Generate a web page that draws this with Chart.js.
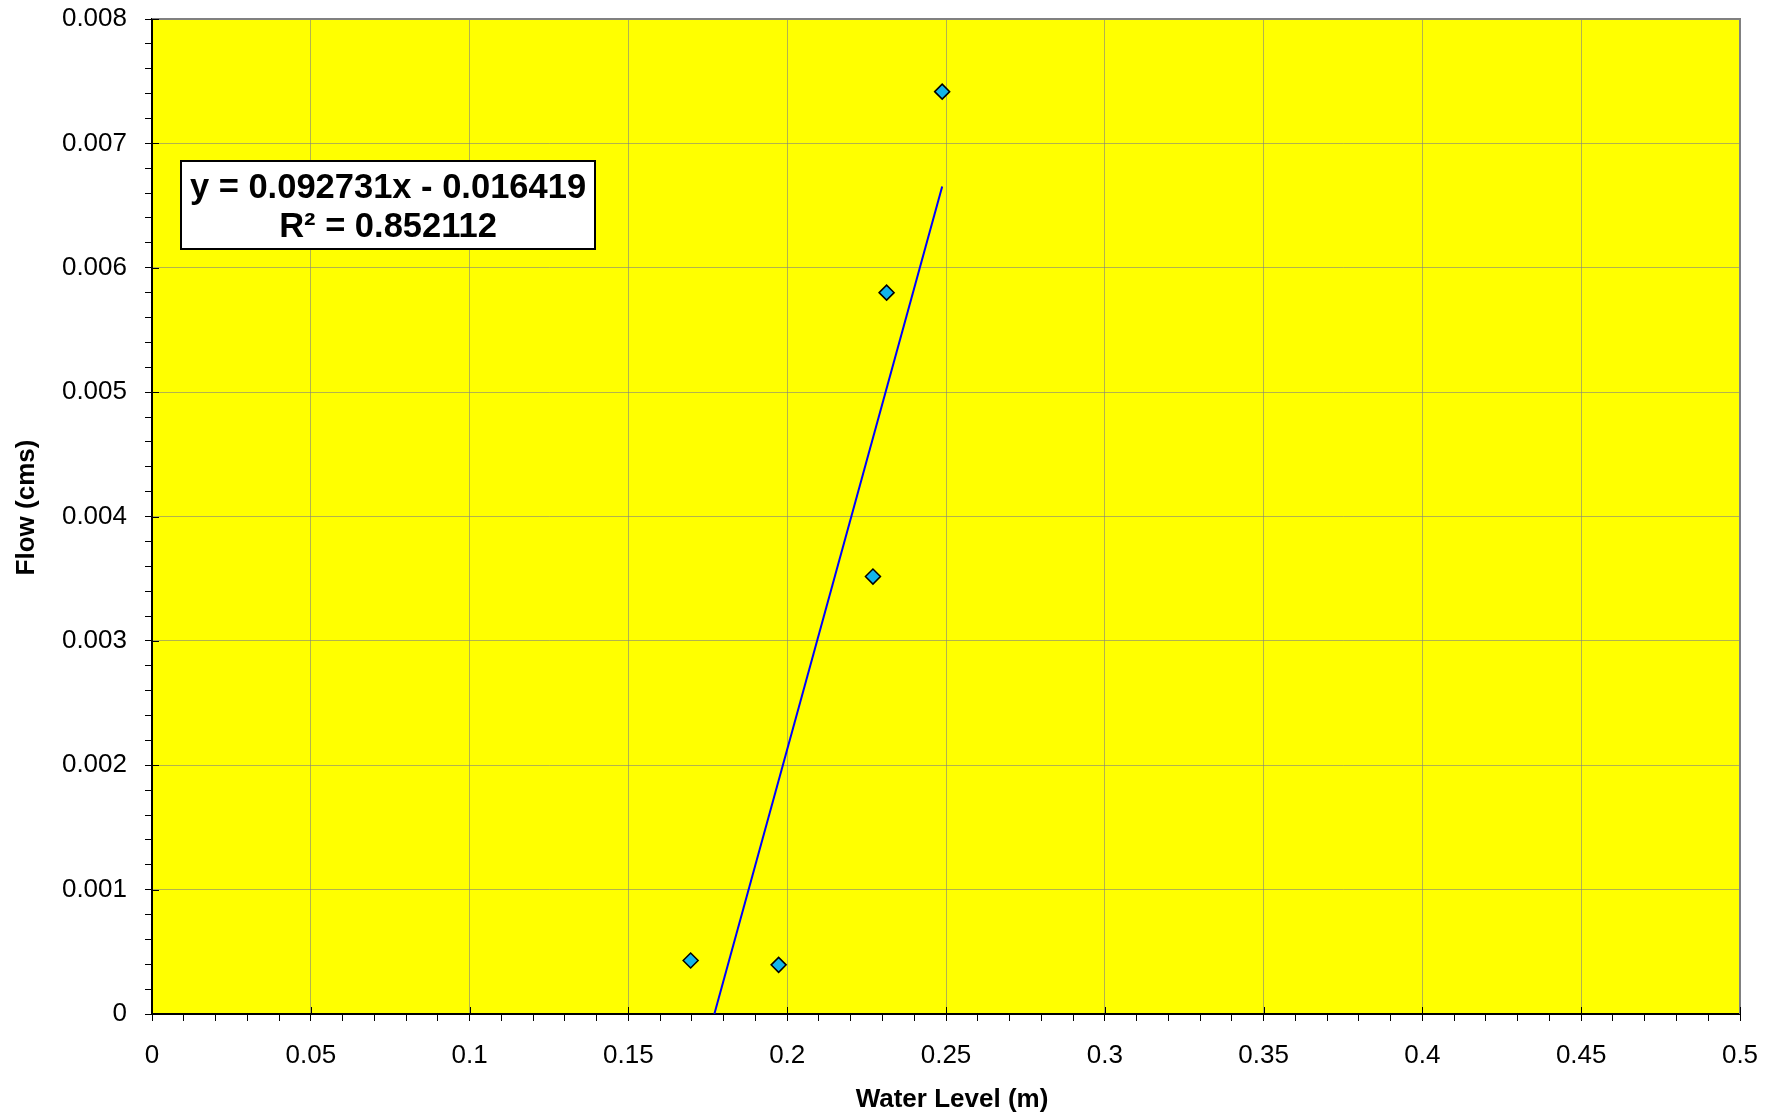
<!DOCTYPE html>
<html>
<head>
<meta charset="utf-8">
<script src="https://cdn.jsdelivr.net/npm/chart.js@4/dist/chart.umd.min.js"></script>
<style>
  html, body { margin: 0; padding: 0; background: #ffffff; }
  #wrap { width: 1780px; height: 1116px; }
</style>
</head>
<body>
<div id="wrap"><canvas id="chart" width="1780" height="1116"></canvas></div>
<script>
// measured points
const waterLevel = [0.1696, 0.1973, 0.2270, 0.2313, 0.2488];
const flow = [0.00043, 0.000395, 0.003517, 0.0058, 0.007416];

// linear trend shown in the box
const slope = 0.092731;
const intercept = -0.016419;
const rSquared = 0.852112;

const xTickLabels = ["0", "0.05", "0.1", "0.15", "0.2", "0.25", "0.3", "0.35", "0.4", "0.45", "0.5"];
const yTickLabels = ["0", "0.001", "0.002", "0.003", "0.004", "0.005", "0.006", "0.007", "0.008"];
const xTitle = "Water Level (m)";
const yTitle = "Flow (cms)";

const FONT = "'Liberation Sans', Arial, sans-serif";
const xMajor = 0.05, yMajor = 0.001;

function majorIndex(v, step) {
  const r = v / step;
  return Math.abs(r - Math.round(r)) < 1e-6 ? Math.round(r) : -1;
}

// trend line runs from where it crosses zero up to the last measured level
const trendStart = -intercept / slope;
const trendEnd = Math.max(...waterLevel);
const trendLine = [trendStart, trendEnd].map(x => ({ x: x, y: slope * x + intercept }));

const plotExtras = {
  id: "plotExtras",
  beforeDraw(chart) {
    const { ctx, chartArea: a } = chart;
    ctx.save();
    ctx.fillStyle = "#ffff00";
    ctx.fillRect(a.left, a.top, a.right - a.left, a.bottom - a.top);
    ctx.restore();
  },
  afterDatasetsDraw(chart) {
    const { ctx, chartArea: a, scales } = chart;
    ctx.save();
    // top and right frame
    ctx.strokeStyle = "#808080";
    ctx.lineWidth = 2;
    ctx.beginPath();
    ctx.moveTo(a.left, a.top);
    ctx.lineTo(a.right, a.top);
    ctx.lineTo(a.right, a.bottom);
    ctx.stroke();
    // inner half of the major ticks
    ctx.strokeStyle = "#000000";
    ctx.lineWidth = 1;
    ctx.beginPath();
    xTickLabels.forEach((_, i) => {
      const px = Math.round(scales.x.getPixelForValue(i * xMajor)) + 0.5;
      ctx.moveTo(px, a.bottom);
      ctx.lineTo(px, a.bottom - 7);
    });
    yTickLabels.forEach((_, i) => {
      const py = Math.round(scales.y.getPixelForValue(i * yMajor)) + 0.5;
      ctx.moveTo(a.left, py);
      ctx.lineTo(a.left + 7, py);
    });
    ctx.stroke();

    // equation box
    const bx = a.left + 29, by = a.top + 142, bw = 414, bh = 88;
    ctx.fillStyle = "#ffffff";
    ctx.fillRect(bx, by, bw, bh);
    ctx.strokeStyle = "#000000";
    ctx.lineWidth = 2;
    ctx.strokeRect(bx, by, bw, bh);
    ctx.fillStyle = "#000000";
    ctx.font = "bold 34.5px " + FONT;
    ctx.textAlign = "center";
    ctx.textBaseline = "alphabetic";
    const sign = intercept < 0 ? " - " : " + ";
    ctx.fillText("y = " + slope.toFixed(6) + "x" + sign + Math.abs(intercept).toFixed(6), bx + bw / 2, by + 37);
    ctx.fillText("R\u00b2 = " + rSquared.toFixed(6), bx + bw / 2, by + 76);

    // axis titles
    ctx.font = "bold 26px " + FONT;
    ctx.fillText(xTitle, (a.left + a.right) / 2 + 6, a.bottom + 93);
    ctx.translate(34, (a.top + a.bottom) / 2 - 9);
    ctx.rotate(-Math.PI / 2);
    ctx.fillText(yTitle, 0, 0);
    ctx.restore();
  }
};

const ctx = document.getElementById("chart").getContext("2d");
new Chart(ctx, {
  type: "scatter",
  data: {
    datasets: [
      {
        label: "Flow",
        data: waterLevel.map((x, i) => ({ x: x, y: flow[i] })),
        pointStyle: "rectRot",
        pointRadius: 7.5,
        backgroundColor: "#13b5ea",
        borderColor: "#000000",
        borderWidth: 1.5,
        order: 1
      },
      {
        label: "Linear",
        type: "line",
        data: trendLine,
        borderColor: "#0000ff",
        borderWidth: 2,
        pointRadius: 0,
        fill: false,
        order: 2
      }
    ]
  },
  options: {
    responsive: false,
    animation: false,
    layout: { padding: { top: 19, right: 40, left: 0, bottom: 0 } },
    plugins: {
      legend: { display: false },
      tooltip: { enabled: false },
      title: { display: false }
    },
    scales: {
      x: {
        type: "linear",
        min: 0,
        max: 0.5,
        afterFit(scale) { scale.height = 102; scale.paddingLeft = 0; scale.paddingRight = 0; },
        border: { color: "#000000", width: 2 },
        grid: {
          color: c => majorIndex(c.tick.value, xMajor) >= 0 ? "rgba(128,128,128,0.6)" : "rgba(0,0,0,0)",
          tickColor: "#000000",
          tickLength: 7,
          lineWidth: 1
        },
        ticks: {
          stepSize: 0.01,
          autoSkip: false,
          maxRotation: 0,
          padding: 19,
          color: "#000000",
          font: { family: FONT, size: 26 },
          callback: v => {
            const i = majorIndex(v, xMajor);
            return i >= 0 ? xTickLabels[i] : "";
          }
        }
      },
      y: {
        type: "linear",
        min: 0,
        max: 0.008,
        afterFit(scale) { scale.width = 152; scale.paddingTop = 0; scale.paddingBottom = 0; },
        border: { color: "#000000", width: 2 },
        grid: {
          color: c => majorIndex(c.tick.value, yMajor) >= 0 ? "rgba(128,128,128,0.6)" : "rgba(0,0,0,0)",
          tickColor: "#000000",
          tickLength: 7,
          lineWidth: 1
        },
        ticks: {
          stepSize: 0.0002,
          autoSkip: false,
          padding: 18,
          color: "#000000",
          font: { family: FONT, size: 26 },
          callback: v => {
            const i = majorIndex(v, yMajor);
            return i >= 0 ? yTickLabels[i] : "";
          }
        }
      }
    }
  },
  plugins: [plotExtras]
});
</script>
</body>
</html>
